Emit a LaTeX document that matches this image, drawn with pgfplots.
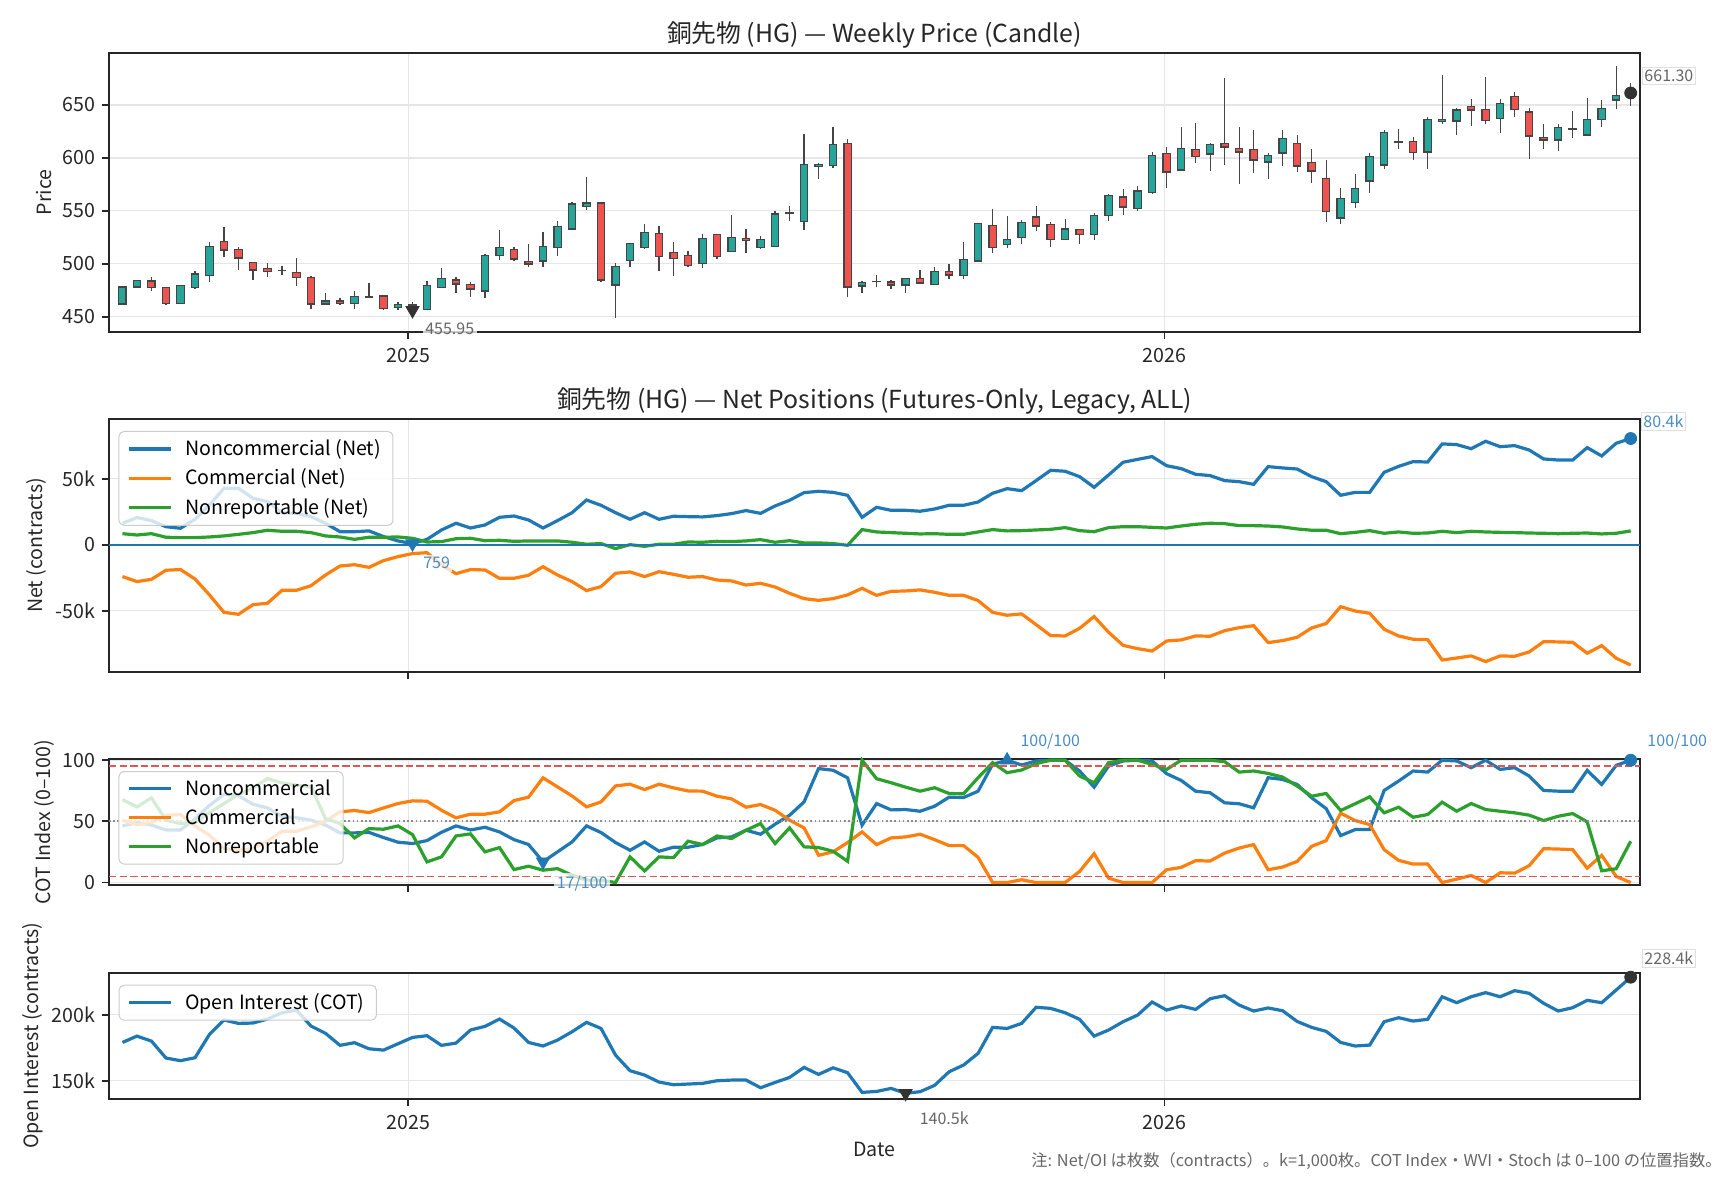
\documentclass[border=0pt]{standalone}
\usepackage{fontspec}
\setmainfont{Noto Sans CJK JP}
\usepackage{pgfplots}
\usepackage{pgfplotstable}
\pgfplotsset{compat=1.18}
\usepgfplotslibrary{statistics}

\definecolor{cup}{HTML}{26A69A}
\definecolor{cdn}{HTML}{EF5350}
\definecolor{cedge}{HTML}{454545}
\definecolor{C0}{HTML}{1F77B4}
\definecolor{C1}{HTML}{FF7F0E}
\definecolor{C2}{HTML}{2CA02C}
\definecolor{spine}{HTML}{262626}
\definecolor{gridc}{HTML}{E6E6E6}
\definecolor{dashred}{HTML}{DF5656}
\definecolor{annot}{HTML}{666666}
\definecolor{mk}{HTML}{333333}
\definecolor{txt}{HTML}{262626}
\definecolor{legc}{HTML}{CCCCCC}
\definecolor{lblue}{HTML}{4A8CC4}

\newcommand\tfont{\fontsize{9.8}{11.5}\selectfont}
\newcommand\ttfont{\fontsize{12.4}{15}\selectfont}
\newcommand\afont{\fontsize{8}{9.5}\selectfont}
\newcommand\ffont{\fontsize{8.15}{9.5}\selectfont}

\newcommand{\candU}[5]{\addplot[draw=cedge, fill=cup, line width=0.6pt,
  boxplot prepared={draw position=#1, lower whisker=#2, lower quartile=#3,
  median=#3, upper quartile=#4, upper whisker=#5}] coordinates {};}
\newcommand{\candD}[5]{\addplot[draw=cedge, fill=cdn, line width=0.6pt,
  boxplot prepared={draw position=#1, lower whisker=#2, lower quartile=#3,
  median=#3, upper quartile=#4, upper whisker=#5}] coordinates {};}

\tikzset{lbl/.style={anchor=west, font=\afont, fill=white, fill opacity=0.75,
    text opacity=1, inner sep=1.2pt}}

\pgfplotsset{
 base/.style={
  scale only axis, width=765.5pt,
  xmin=-144.5, xmax=594.5,
  clip=false,
  axis line style={spine, line width=0.9pt},
  tick align=outside, major tick length=3.5pt,
  every tick/.style={spine, line width=0.9pt},
  tick pos=left,
  xtick={0,365},
  grid=major, major grid style={gridc, line width=0.65pt},
  tick label style={font=\tfont, text=txt},
  xticklabel style={yshift=-1.3pt},
  label style={font=\tfont, text=txt},
  ylabel style={at={(axis description cs:0,0.5)}, anchor=center},
  title style={font=\ttfont, text=txt, at={(0.5,1)}, anchor=base, yshift=-0.8pt},
  legend cell align=left,
  legend image code/.code={\draw[##1] (0pt,0pt) -- (21pt,0pt); \path (25.5pt,0pt);},
  legend style={at={(0,1)}, anchor=north west, xshift=4.75pt, yshift=-6pt,
    draw=legc, line width=0.5pt, fill=white, fill opacity=0.8, text opacity=1,
    draw opacity=1, rounded corners=2.5pt, font=\tfont, inner xsep=4pt,
    inner ysep=2pt, row sep=1.2pt},
 },
 dl/.style={line width=1.6pt},
}

\begin{document}

\pgfplotstableread{
d nc cm nr
-138 16.2 -24.2 8.3
-131 20.5 -28 7.3
-124 18.2 -26.3 8.3
-117 13.6 -19.4 5.6
-110 12.4 -18.9 5.3
-103 19.2 -26 5.3
-96 30 -38.1 5.8
-89 42.7 -51.3 6.6
-82 42.7 -52.8 7.8
-75 35.1 -45.5 9.1
-68 32.6 -44.4 10.9
-61 24.2 -34.6 10.1
-54 23.7 -34.6 10.1
-47 21.2 -31.1 9.1
-40 16.2 -23 6.6
-33 9.8 -16.2 5.8
-26 9.8 -15.2 4
-19 10.4 -17.2 5.6
-12 6.1 -12.1 5.6
-5 2.8 -9.1 5.8
2 0.759 -6.8 4.8
9 4 -6.1 2
16 11.1 -15.4 2.3
23 16.2 -22 4.5
30 12.6 -18.9 4.8
37 14.9 -19.2 3
44 20.7 -25.5 3.3
51 21.7 -25.5 2.5
58 18.7 -23.2 2.8
65 12.6 -16.7 2.8
72 18.2 -23 2.8
79 24.2 -28 1.8
86 33.8 -34.8 0.3
93 29.8 -31.8 0.8
100 24.2 -21.7 -3
107 19.2 -20.7 0
114 24.2 -24.2 -1.3
121 19.2 -20.5 0.3
128 21.5 -22.5 0.3
135 21.2 -24.7 2
142 21 -24.2 1.8
149 22 -26.8 2.5
156 23.5 -27.5 2.3
163 25.8 -30.6 2.8
170 23.7 -29.3 3.8
177 29.3 -32.1 1.8
184 33.6 -36.9 3
191 39.4 -40.9 1.3
198 40.4 -42.2 1.3
205 39.6 -40.9 0.8
212 37.4 -38.1 -0.5
219 20.7 -33.1 11.4
226 28.3 -38.4 9.6
233 26 -35.4 9.1
240 26 -35.1 8.6
247 25.3 -34.3 8.1
254 27 -36.1 8.3
261 29.8 -38.4 7.8
268 29.8 -38.4 7.8
275 32.3 -42.4 9.6
282 38.9 -51.3 11.4
289 42.4 -53.5 10.4
296 40.9 -52.5 10.6
303 48.5 -60.6 11.1
310 56.3 -68.9 11.6
317 55.6 -69.2 12.9
324 51.5 -63.4 10.6
331 43.4 -54.5 9.8
338 52.8 -66.4 12.9
345 62.4 -76.3 13.6
352 64.6 -78.8 13.6
359 66.7 -80.6 13.1
366 59.8 -73 12.6
373 57.6 -72.2 14.1
380 53.3 -69.2 15.4
387 52.3 -69.4 16.2
394 48.5 -65.2 15.9
401 47.7 -62.9 14.4
408 45.7 -61.4 14.4
415 59.1 -74.2 14.1
422 58.1 -72.7 13.4
429 57.3 -70.2 11.9
436 51.5 -63.1 10.9
443 47.7 -59.8 10.9
450 37.4 -47 8.3
457 39.6 -50.3 9.3
464 39.6 -52 10.6
471 54.8 -64.1 8.6
478 59.3 -69.2 9.6
485 62.9 -71.7 8.6
492 62.6 -72 8.8
499 76.3 -87.4 10.1
506 75.8 -85.9 9.1
513 72.7 -84.3 10.1
520 78.3 -88.6 9.6
527 74.2 -84.3 9.3
534 75 -84.6 9.1
541 71.7 -81.3 8.8
548 64.9 -73.5 8.6
555 64.1 -73.7 8.3
562 64.1 -74 8.6
569 73.5 -82.3 8.8
576 67.2 -76.5 8.1
583 76.8 -86.1 8.6
590 80.4 -91.2 10.4
}\netdata

\pgfplotstableread{
d nc cm nr
-138 46.3 51 67.8
-131 49 47.4 61.9
-124 47 49 69.2
-117 43 55 51
-110 43 55.6 48.2
-103 52 46.3 49
-96 63 38.7 57.2
-89 72 27.8 64.6
-82 71 26.4 72
-75 64 27.8 77.4
-68 61 33.8 85
-61 54 42 81.5
-54 53 42 79.6
-47 51 45.5 78.2
-40 47 50.1 52.3
-33 40.6 57.8 48.2
-26 40.6 58.9 36.5
-19 41 57.2 44.1
-12 36.8 61 43.6
-5 33 64.6 46.3
2 31.9 66.8 39.2
9 34.3 66.5 16.9
16 41.1 59.1 21
23 46.3 52.9 38.1
30 43 55.9 39.8
37 45.2 55.9 25.1
44 41.4 57.8 28.6
51 35.1 67 10.6
58 31.1 69.8 13.4
65 17 85.6 10.1
72 25.1 78.2 11.4
79 33.2 70.8 6
86 46.3 61.9 2
93 40.9 65.9 2
100 32.7 79 0
107 26.4 80.4 21
114 33.2 76 9.5
121 25.6 80.4 21
128 28.9 77.4 20.4
135 28.9 74.9 33.8
142 31.1 74.7 31.1
149 36.5 70.6 38.1
156 37.3 68.4 36
163 42.8 61.6 42.8
170 39.5 63.8 48.2
177 47.7 59.1 31.9
184 55 51 44.7
191 65.9 44.7 29.2
198 93.2 22.3 28.6
205 91.8 25.1 25.6
212 85.6 32.7 17.4
219 46.9 41.4 100
226 64.6 31 84.9
233 59.4 36.5 81.6
240 59.7 37.3 78
247 58.3 39.5 74.7
254 62.4 35.1 77.5
261 69.8 30.2 72.8
268 69.5 30.2 72.6
275 74.7 20.6 85.7
282 96.6 0 98
289 100 0 89.8
296 96.1 2.3 92
303 99.4 0 97.2
310 100 0 100
317 100 0 100
324 91.2 9.1 87.1
331 78 23.6 81.6
338 95.3 3.6 98
345 99.4 0 100
352 100 0 100
359 99.4 0 96.6
366 89 10.5 92.5
373 83.5 12.4 100
380 74.7 17.9 100
387 73.4 17.6 100
394 65.2 24.1 98.8
401 64.4 28.2 90.3
408 61.1 31 91.2
415 85.7 10.5 89.2
422 84.3 12.7 86.2
429 80.2 17.3 78.9
436 69.3 29.6 70.6
443 60.5 34.3 72.8
450 38.4 56.7 58.9
457 43.3 50.7 64.4
464 43.3 47.4 70.1
471 75.3 26.9 57
478 83 18.1 61.6
485 91.2 15.1 53.4
492 90.3 15.1 55.6
499 100 0 65.7
506 99.4 2.8 58.3
513 93.9 5.8 64.6
520 100 0 59.7
527 92.5 8 58.3
534 93.9 7.7 57
541 87.1 13.8 55.1
548 75.3 27.7 50.7
555 74.7 27.4 54.2
562 74.7 26.9 56.4
569 91.7 11.8 49.6
576 80.2 22.2 9.6
583 95.8 5 11.3
590 100 0 33.7
}\cotdata

\pgfplotstableread{
d oi
-138 179
-131 183.8
-124 180
-117 167.2
-110 165.2
-103 167.4
-96 185.1
-89 196
-82 193.4
-75 193.7
-68 196.7
-61 201.5
-54 203.5
-47 191.4
-40 185.9
-33 176.8
-26 178.8
-19 174.2
-12 173.2
-5 178
2 182.8
9 184.1
16 176.8
23 178.5
30 188.4
37 191.2
44 196.7
51 189.9
58 179
65 176.3
72 180.8
79 187.1
86 194.2
93 189.6
100 169.4
107 157.6
114 154.3
121 149
128 147
135 147.5
142 148
149 150
156 150.5
163 150.5
170 144.7
177 148.7
184 152.5
191 160.1
198 154.8
205 159.8
212 156.1
219 141.2
226 141.9
233 144.2
240 140.5
247 141.7
254 146.5
261 156.8
268 161.9
275 170.7
282 190.4
289 189.6
296 193.4
303 205.6
310 204.8
317 201.5
324 196.5
331 183.8
338 188.4
345 194.7
352 199.7
359 209.6
366 203.5
373 206.6
380 204
387 212.1
394 214.4
401 207.3
408 202.8
415 205.1
422 203
429 194.9
436 190.4
443 187.4
450 179
457 176.3
464 177
471 194.7
478 197.7
485 195.2
492 196.5
499 213.6
506 209.1
513 213.6
520 216.7
527 213.6
534 218.2
541 216.2
548 208.6
555 202.8
562 205.3
569 210.9
576 209.1
583 218.7
590 228.4
}\oidata

\begin{tikzpicture}
\path[use as bounding box] (0pt,0pt) rectangle (864pt,590pt);

% ---------------- Panel 1: candles ----------------
\begin{axis}[base, at={(54.5pt,424.15pt)}, anchor=south west, height=139.2pt,
  ymin=435.8, ymax=698.8,
  ytick={450,500,550,600,650}, yticklabels={450,500,550,600,650},
  xticklabels={2025,2026},
  ylabel={Price}, ylabel style={yshift=32.5pt},
  title={銅先物 (HG) — Weekly Price (Candle)},
  boxplot/draw direction=y, boxplot/box extend=3.5, boxplot/whisker extend=0]
\candU{-138}{461}{462}{478}{479}
\candU{-131}{477}{478}{484}{485}
\candD{-124}{474}{477.4}{483.6}{487.8}
\candD{-117}{461}{462.6}{477.7}{478.3}
\candU{-110}{462}{462.5}{479.3}{480}
\candU{-103}{475.8}{477.7}{490.3}{493.5}
\candU{-96}{483}{489}{516}{520.9}
\candD{-89}{506}{513}{521.2}{534.4}
\candD{-82}{494}{505.4}{513.6}{516}
\candD{-75}{485}{494}{501}{502}
\candD{-68}{487}{492.8}{495.7}{501}
\candU{-61}{489}{493.3}{493.8}{498}
\candD{-54}{479}{486.9}{491.6}{505}
\candD{-47}{457}{462}{486.9}{488.4}
\candU{-40}{461.7}{462}{464.8}{472.7}
\candD{-33}{461}{462.6}{464.8}{468}
\candU{-26}{457}{462.6}{468.9}{474.3}
\candD{-19}{468}{468.6}{469.2}{481.5}
\candD{-12}{456.3}{457.9}{469.5}{470.5}
\candU{-5}{456.3}{458.3}{461.4}{463.5}
\candD{2}{455.95}{459}{461}{463.5}
\candU{9}{456.5}{457}{479.3}{484}
\candU{16}{476.8}{477.7}{485.9}{495.7}
\candD{23}{472.7}{480.8}{484.6}{487.2}
\candD{30}{468.9}{476.1}{480.5}{482.4}
\candU{37}{467.3}{474.2}{507.6}{508.9}
\candU{44}{503.5}{507.9}{515.1}{531.9}
\candD{51}{502.6}{504.5}{513.6}{515.5}
\candD{58}{496.6}{499.8}{502.3}{518.4}
\candU{65}{497.2}{502.6}{516.1}{529.7}
\candU{72}{507.3}{515.5}{535}{540.4}
\candU{79}{532.5}{532.8}{556.5}{558.7}
\candU{86}{551.1}{554.3}{557.4}{581.6}
\candD{93}{482.4}{484.6}{557.4}{558.7}
\candU{100}{448.5}{479.9}{497.1}{500.3}
\candU{107}{497.1}{503.4}{518.8}{519.4}
\candU{114}{513.5}{515.3}{529.2}{537.3}
\candD{121}{493}{507.2}{528.2}{535.4}
\candD{128}{488}{505.3}{510.3}{520.4}
\candD{135}{497.1}{498.1}{508.1}{512.5}
\candU{142}{496.2}{500.6}{523.5}{528.5}
\candD{149}{504.7}{507.2}{527.3}{527.9}
\candU{156}{511}{511.9}{524.5}{545.8}
\candD{163}{510.3}{521.7}{523.5}{533.2}
\candU{170}{513.5}{515.7}{523.2}{526.3}
\candU{177}{516}{516.6}{547}{549.6}
\candU{184}{540.4}{547.5}{548}{554.9}
\candU{191}{532.3}{540.1}{594.1}{622.7}
\candU{198}{580.3}{592}{594}{595}
\candU{205}{590.7}{592.6}{612.6}{629.6}
\candD{212}{468.3}{478}{613.9}{618}
\candU{219}{472}{478.9}{482}{484}
\candU{226}{477.7}{483}{483.5}{489}
\candD{233}{475.8}{479.9}{482.7}{484.3}
\candU{240}{472}{479.9}{485.8}{486.5}
\candD{247}{480.5}{481.8}{485.8}{494}
\candU{254}{479.6}{480.5}{492.8}{496.5}
\candD{261}{485.2}{489.3}{492.4}{499.3}
\candU{268}{485.8}{489}{503.7}{520.4}
\candU{275}{501.9}{502.5}{538}{538.6}
\candD{282}{509.7}{515.7}{536.1}{552.1}
\candU{289}{515.3}{518.5}{523.2}{544.9}
\candU{296}{518.2}{525}{538.6}{541.7}
\candD{303}{531}{535.7}{544.2}{554.3}
\candD{310}{516}{522.6}{537}{539.2}
\candU{317}{522.9}{523.2}{532.9}{542.7}
\candD{324}{518.8}{527.9}{532}{533}
\candU{331}{522.6}{527.9}{545.2}{548.3}
\candU{338}{540.5}{545.8}{564.6}{566.2}
\candD{345}{546.4}{553.6}{563.1}{570.3}
\candU{352}{549.9}{552}{568.7}{573.7}
\candU{359}{566.5}{567.2}{602.1}{605.9}
\candD{366}{571.9}{586.7}{604}{610.3}
\candU{373}{588}{588.6}{608.7}{628.9}
\candD{380}{595.5}{601.2}{607.8}{632.7}
\candU{387}{588}{603.7}{612.5}{613.8}
\candD{394}{593.6}{610.3}{613.5}{675.2}
\candD{401}{575}{605.6}{608.7}{628.9}
\candD{408}{586.1}{598}{607.8}{626.4}
\candU{415}{580.4}{596.1}{602.1}{605}
\candU{422}{592.7}{604.6}{618.5}{626.4}
\candD{429}{587}{592.4}{613.5}{621.7}
\candD{436}{576.6}{587.6}{595.5}{608.1}
\candD{443}{539.8}{549.5}{580.4}{598}
\candU{450}{537.2}{543.2}{561.5}{571.3}
\candU{457}{553}{557.7}{570.9}{584.8}
\candU{464}{566.5}{578.2}{601.2}{605}
\candU{471}{589.2}{593.3}{623.9}{626.4}
\candU{478}{608.7}{614.8}{615.4}{627}
\candD{485}{598.3}{605}{615.4}{619.4}
\candU{492}{589.2}{605.6}{636.5}{638.3}
\candU{499}{631.7}{634}{636.5}{678}
\candU{506}{622}{634.9}{645.3}{646.9}
\candD{513}{630.5}{645.3}{648.4}{655.7}
\candD{520}{631.7}{635.2}{645.9}{676.1}
\candU{527}{623.9}{637.1}{651.3}{655.4}
\candD{534}{639}{645.6}{657.9}{662}
\candD{541}{599.3}{620.7}{643.4}{646.9}
\candD{548}{608.7}{616.9}{619.4}{631.7}
\candU{555}{606.9}{616.9}{628.6}{631.7}
\candU{562}{619.1}{627}{627.5}{644}
\candU{569}{620.7}{621.7}{636.1}{656.3}
\candU{576}{628.9}{636.1}{646.5}{654.7}
\candU{583}{645.9}{654.7}{658.8}{686.9}
\candU{590}{649.4}{658.8}{661.3}{670.5}
\addplot[only marks, mark=triangle*, mark size=3.8pt,
  mark options={rotate=180, fill=mk, draw=mk},
  nodes near coords={455.95},
  every node near coord/.style={lbl, text=annot, xshift=5pt, yshift=-9.3pt}]
  coordinates {(2,455.95)};
\addplot[only marks, mark=*, mark size=3pt, mark options={fill=mk, draw=mk},
  nodes near coords={661.30},
  every node near coord/.style={lbl, text=annot, draw=legc, draw opacity=0.6, xshift=5.5pt, yshift=8.7pt}]
  coordinates {(590,661.3)};
\end{axis}

% ---------------- Panel 2: net positions ----------------
\begin{axis}[base, at={(54.5pt,254pt)}, anchor=south west, height=126.5pt,
  ymin=-96.5, ymax=95.2,
  ytick={-50,0,50}, yticklabels={-50k,0,50k},
  xticklabels={,,},
  ylabel={Net (contracts)}, ylabel style={yshift=36.2pt},
  title={銅先物 (HG) — Net Positions (Futures-Only, Legacy, ALL)}]
\addplot[C0, dl] table[x=d, y=nc] {\netdata};
\addlegendentry{Noncommercial (Net)}
\addplot[C1, dl] table[x=d, y=cm] {\netdata};
\addlegendentry{Commercial (Net)}
\addplot[C2, dl] table[x=d, y=nr] {\netdata};
\addlegendentry{Nonreportable (Net)}
\addplot[C0, line width=1.1pt, forget plot] coordinates {(-144.5,0) (594.5,0)};
\addplot[only marks, mark=triangle*, mark size=3.8pt, forget plot,
  mark options={rotate=180, fill=C0, draw=C0},
  nodes near coords={759},
  every node near coord/.style={lbl, text=lblue, xshift=4pt, yshift=-9.8pt}]
  coordinates {(2,0.759)};
\addplot[only marks, mark=*, mark size=3pt, forget plot, mark options={fill=C0, draw=C0},
  nodes near coords={80.4k},
  every node near coord/.style={lbl, text=lblue, draw=legc, draw opacity=0.6, xshift=5pt, yshift=8.6pt}]
  coordinates {(590,80.4)};
\end{axis}

% ---------------- Panel 3: COT index ----------------
\begin{axis}[base, at={(54.5pt,147.5pt)}, anchor=south west, height=63pt,
  ymin=-2, ymax=101,
  ytick={0,50,100}, yticklabels={0,50,100},
  xticklabels={,,},
  ylabel={COT Index (0–100)}, ylabel style={yshift=32.5pt}]
\addplot[C0, dl] table[x=d, y=nc] {\cotdata};
\addlegendentry{Noncommercial}
\addplot[C1, dl] table[x=d, y=cm] {\cotdata};
\addlegendentry{Commercial}
\addplot[C2, dl] table[x=d, y=nr] {\cotdata};
\addlegendentry{Nonreportable}
\addplot[dashred, line width=0.9pt, dash pattern=on 3.7pt off 1.6pt, forget plot] coordinates {(-144.5,95) (594.5,95)};
\addplot[dashred, line width=0.9pt, dash pattern=on 3.7pt off 1.6pt, forget plot] coordinates {(-144.5,5) (594.5,5)};
\addplot[black!45, line width=0.9pt, dash pattern=on 0.8pt off 1.3pt, forget plot] coordinates {(-144.5,50) (594.5,50)};
\addplot[only marks, mark=triangle*, mark size=3.8pt, forget plot,
  mark options={rotate=180, fill=C0, draw=C0},
  nodes near coords={17/100},
  every node near coord/.style={lbl, text=lblue, xshift=5.5pt, yshift=-10.8pt}]
  coordinates {(65,17)};
\addplot[only marks, mark=triangle*, mark size=3.8pt, forget plot,
  mark options={fill=C0, draw=C0},
  nodes near coords={100/100},
  every node near coord/.style={lbl, text=lblue, fill opacity=0, xshift=5.3pt, yshift=9.5pt}]
  coordinates {(289,100)};
\addplot[only marks, mark=*, mark size=3pt, forget plot, mark options={fill=C0, draw=C0},
  nodes near coords={100/100},
  every node near coord/.style={lbl, text=lblue, fill opacity=0, xshift=7pt, yshift=9.5pt}]
  coordinates {(590,100)};
\end{axis}

% ---------------- Panel 4: open interest ----------------
\begin{axis}[base, at={(54.5pt,40.65pt)}, anchor=south west, height=63pt,
  ymin=136.4, ymax=231.8,
  ytick={150,200}, yticklabels={150k,200k},
  xticklabels={2025,2026},
  ylabel={Open Interest (contracts)}, ylabel style={yshift=38pt},
  xlabel={Date}, xlabel style={at={(axis description cs:0.5,0)}, anchor=center, yshift=-25.5pt}]
\addplot[C0, dl] table[x=d, y=oi] {\oidata};
\addlegendentry{Open Interest (COT)}
\addplot[only marks, mark=triangle*, mark size=3.8pt, forget plot,
  mark options={rotate=180, fill=mk, draw=mk},
  nodes near coords={140.5k},
  every node near coord/.style={lbl, text=annot, xshift=5.7pt, yshift=-12.5pt}]
  coordinates {(240,140.5)};
\addplot[only marks, mark=*, mark size=3pt, forget plot, mark options={fill=mk, draw=mk},
  nodes near coords={228.4k},
  every node near coord/.style={lbl, text=annot, draw=legc, draw opacity=0.6, xshift=5.5pt, yshift=9.3pt}]
  coordinates {(590,228.4)};
\end{axis}

\node[anchor=east, font=\ffont, text=annot, inner sep=0pt] at (861pt,9.3pt)
  {注: Net/OI は枚数（contracts）。k=1,000枚。COT Index・WVI・Stoch は 0–100 の位置指数。};
\end{tikzpicture}
\end{document}
